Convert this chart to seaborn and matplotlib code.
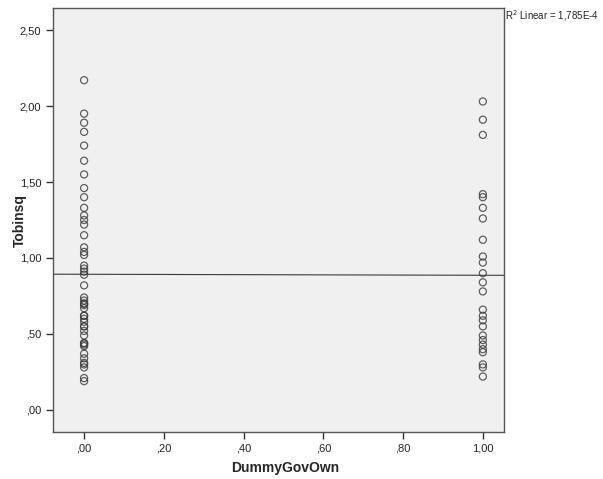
import numpy as np
import pandas as pd
import matplotlib
matplotlib.use("Agg")
import matplotlib.pyplot as plt
import seaborn as sns

# values (dense clusters hold a few overlapping points)
tobinsq_gov0 = [2.17, 1.95, 1.89, 1.83, 1.74, 1.64, 1.55, 1.46, 1.40, 1.33,
                1.28, 1.25, 1.22, 1.15, 1.07, 1.04, 1.02, 0.95, 0.93, 0.91,
                0.89, 0.82, 0.74, 0.72, 0.70, 0.70, 0.69, 0.67, 0.62, 0.62,
                0.60, 0.58, 0.55, 0.55, 0.52, 0.49, 0.44, 0.44, 0.43, 0.42,
                0.37, 0.34, 0.31, 0.30, 0.28, 0.21, 0.19]
tobinsq_gov1 = [2.03, 1.91, 1.81, 1.42, 1.40, 1.33, 1.26, 1.12, 1.01, 0.97,
                0.90, 0.84, 0.78, 0.66, 0.62, 0.59, 0.55, 0.49, 0.46, 0.43,
                0.40, 0.38, 0.30, 0.28, 0.22]
x_ticks = [0.0, 0.2, 0.4, 0.6, 0.8, 1.0]
y_ticks = [0.0, 0.5, 1.0, 1.5, 2.0, 2.5]

df = pd.DataFrame({
    "DummyGovOwn": [0.0] * len(tobinsq_gov0) + [1.0] * len(tobinsq_gov1),
    "Tobinsq": tobinsq_gov0 + tobinsq_gov1,
})

sns.set_style("white")
plt.rcParams["font.family"] = ["Liberation Sans", "DejaVu Sans"]

fig = plt.figure(figsize=(6.03, 4.79), dpi=100)
ax = fig.add_axes([0.0879, 0.0981, 0.7479, 0.8852])
ax.set_facecolor("#f0f0f0")
ax.set_xlim(-0.078, 1.053)
ax.set_ylim(-0.145, 2.645)

sns.regplot(data=df, x="DummyGovOwn", y="Tobinsq", ax=ax, ci=None, truncate=False,
            scatter_kws=dict(s=26, facecolors="none", edgecolors="#3a3a3a", linewidths=0.9),
            line_kws=dict(color="#3a3a3a", linewidth=0.8))

fmt = lambda v: f"{v:.2f}".replace(".", ",").lstrip("0") if v < 1 else f"{v:.2f}".replace(".", ",")
ax.set_xticks(x_ticks)
ax.set_xticklabels([fmt(v) for v in x_ticks])
ax.set_yticks(y_ticks)
ax.set_yticklabels([fmt(v) for v in y_ticks])
ax.tick_params(direction="out", length=5, width=1, color="#333333", labelsize=8,
               labelcolor="#222222", left=True, bottom=True)

for s in ax.spines.values():
    s.set_color("#555555")
    s.set_linewidth(1)

ax.set_xlabel("DummyGovOwn", fontsize=10, fontweight="bold")
ax.set_ylabel("Tobinsq", fontsize=10, fontweight="bold")
ax.xaxis.set_label_coords(0.514, -0.068)
ax.yaxis.set_label_coords(-0.058, 0.5)

fig.text(0.837, 0.968, "R$^2$ Linear = 1,785E-4", fontsize=7, color="#222222",
         ha="left", va="center")

fig.savefig("out.png", dpi=100)
